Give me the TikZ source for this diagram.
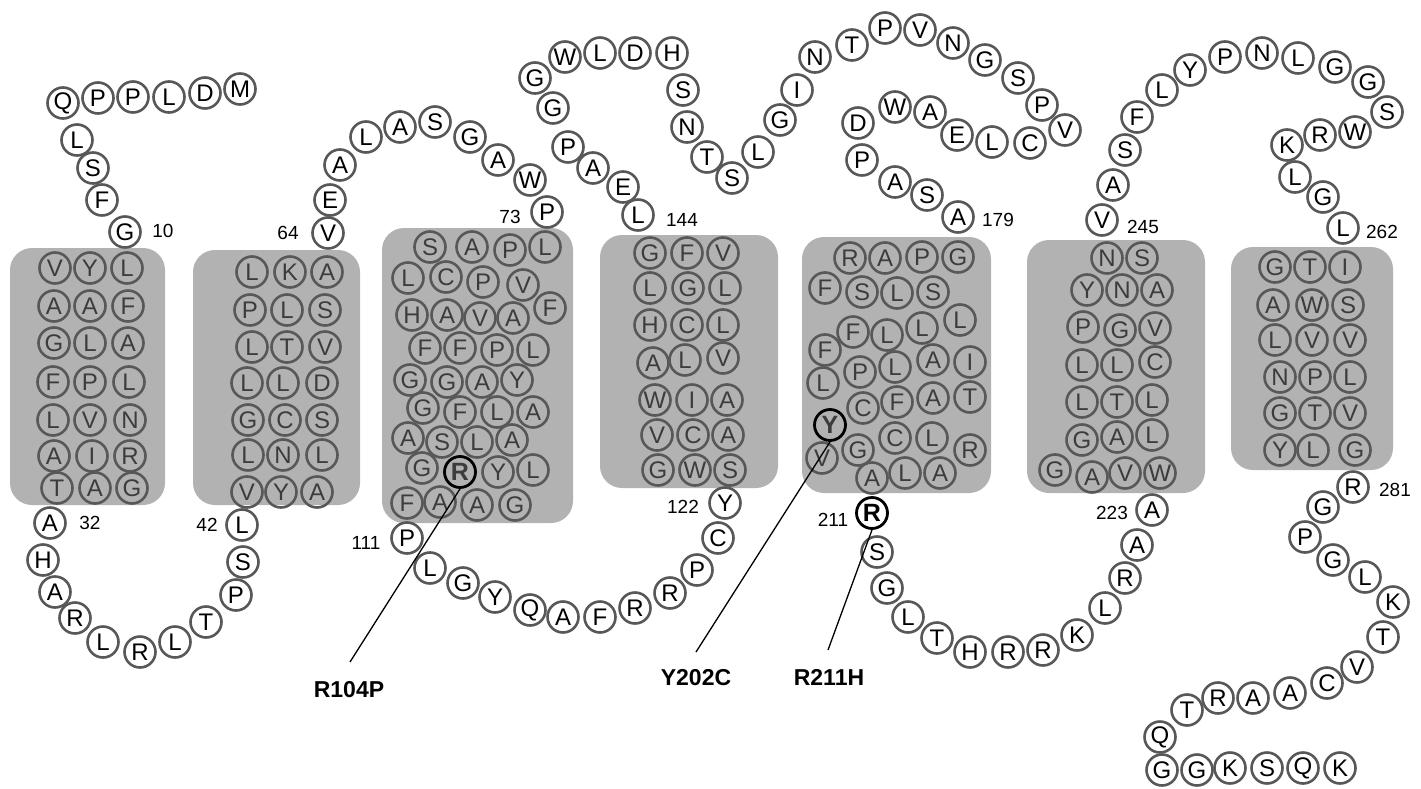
\documentclass[tikz,border=0pt]{standalone}
\usepackage{fontspec}
\setmainfont{Liberation Sans}
\definecolor{boxgray}{RGB}{178,178,178}
\definecolor{ringgray}{RGB}{88,88,88}
\definecolor{ingray}{RGB}{60,60,60}
\tikzset{
  aa/.style={circle,draw=ringgray,line width=2.6pt,minimum size=31pt,inner sep=0pt,font=\fontsize{24}{24}\selectfont},
  outaa/.style={aa,fill=white,text=black},
  inaa/.style={aa,text=ingray},
  mutin/.style={aa,draw=black,line width=2.8pt,text=ingray,font=\fontsize{25}{25}\selectfont\bfseries},
  mutout/.style={aa,fill=white,draw=black,line width=2.8pt,text=black,font=\fontsize{25}{25}\selectfont\bfseries},
  tmbox/.style={fill=boxgray,rounded corners=22pt},
  numlab/.style={font=\fontsize{19}{19}\selectfont,inner sep=0pt},
  mutlab/.style={font=\fontsize{23}{23}\selectfont\bfseries,inner sep=0pt},
  mutline/.style={draw=black,line width=1.3pt}
}
\begin{document}
\begin{tikzpicture}[x=1pt,y=-1pt]
\useasboundingbox (0,0) rectangle (1421,789);
% membrane boxes
\path[tmbox] (10,248) rectangle (165,505);
\path[tmbox] (193,250) rectangle (360,505);
\path[tmbox] (382,228) rectangle (573,523);
\path[tmbox] (600,235) rectangle (778,488);
\path[tmbox] (802,237) rectangle (991,493);
\path[tmbox] (1027,240) rectangle (1205,493);
\path[tmbox] (1231,247) rectangle (1393,470);
% TM1
\foreach \x/\y/\t [count=\i] in {55/268/V,90/268/Y,127/268/L,54/306/A,90/306/A,128/306/F,54/343/G,90/343/L,128/343/A,53/382/F,90/382/P,129/382/L,53/420/L,90/420/V,130/420/N,54/456/A,92/456/I,130/456/R,57/488/T,95/488/A,132/488/G}
  \node[inaa] (ta\i) at (\x,\y) {\t};
% TM2
\foreach \x/\y/\t [count=\i] in {252/272/L,290/272/K,327/272/A,250/310/P,287/310/L,325/310/S,252/347/L,287/347/T,325/347/V,247/383/L,283/383/L,322/383/D,248/420/G,285/420/C,322/420/S,248/455/L,283/455/N,322/455/L,247/492/V,281/492/Y,317/492/A}
  \node[inaa] (tb\i) at (\x,\y) {\t};
% TM3
\foreach \x/\y/\t [count=\i] in {430/247/S,472/247/A,510/250/P,545/247/L,408/278/L,446/277/C,483/282/P,523/285/V,550/308/F,412/315/H,447/315/A,480/318/V,513/318/A,425/348/F,460/348/F,497/350/P,533/350/L,410/380/G,447/382/G,482/382/A,517/380/Y,423/408/G,460/412/F,497/412/L,533/412/A,408/438/A,442/442/S,477/442/L,512/440/A,422/468/G,498/472/Y,533/470/L,407/503/F,440/502/A,477/505/A,515/505/G}
  \node[inaa] (tc\i) at (\x,\y) {\t};
\node[mutin] (mutR) at (460,472) {R};
% TM4
\foreach \x/\y/\t [count=\i] in {650/253/G,687/253/F,723/253/V,650/288/L,688/288/G,725/288/L,650/325/H,687/325/C,723/325/L,653/363/A,685/360/L,723/358/V,655/400/W,692/400/I,727/400/A,657/435/V,693/435/C,728/435/A,658/470/G,695/470/W,730/470/S}
  \node[inaa] (td\i) at (\x,\y) {\t};
% TM5
\foreach \x/\y/\t [count=\i] in {850/258/R,885/258/A,922/257/P,958/257/G,825/288/F,862/292/S,897/293/L,933/292/S,960/320/L,853/332/F,887/335/L,922/328/L,825/350/F,860/372/P,895/367/L,933/360/A,970/362/I,823/383/L,863/408/C,897/402/F,933/398/A,970/397/T,822/458/V,858/450/G,895/438/C,932/438/L,970/450/R,872/478/A,905/473/L,940/473/A}
  \node[inaa] (te\i) at (\x,\y) {\t};
\node[mutin] (mutY) at (830,425) {Y};
% TM6
\foreach \x/\y/\t [count=\i] in {1107/258/N,1142/258/S,1087/290/Y,1122/290/N,1157/290/A,1083/327/P,1120/330/G,1155/328/V,1082/365/L,1117/365/L,1155/362/C,1082/402/L,1117/402/T,1152/400/L,1082/440/G,1117/437/A,1152/435/L,1055/470/G,1092/477/A,1125/473/V,1160/473/W}
  \node[inaa] (tf\i) at (\x,\y) {\t};
% TM7
\foreach \x/\y/\t [count=\i] in {1275/267/G,1310/267/T,1345/267/I,1273/305/A,1312/305/W,1348/305/S,1275/340/L,1312/340/V,1350/340/V,1280/377/N,1315/377/P,1350/377/L,1280/413/G,1315/413/T,1350/413/V,1280/450/Y,1313/450/L,1355/450/G}
  \node[inaa] (tg\i) at (\x,\y) {\t};
% outside residues
\foreach \x/\y/\t [count=\i] in {
  240/89/M,205/93/D,169/97/L,133/97/P,98/98/P,63/103/Q,77/140/L,93/168/S,102/200/F,125/232/G,
  50/523/A,43/560/H,55/592/A,75/618/R,103/642/L,140/652/R,175/642/L,206/622/T,236/595/P,243/562/S,242/525/L,
  328/233/V,330/200/E,340/165/A,366/137/L,400/127/A,435/122/S,470/137/G,498/160/A,530/180/W,547/212/P,
  407/538/P,430/568/L,463/583/G,495/597/Y,530/610/Q,563/617/A,600/617/F,635/608/R,670/593/R,697/570/P,718/538/C,725/503/Y,
  638/215/L,623/187/E,593/168/A,568/147/P,553/108/G,535/78/G,565/57/W,600/53/L,635/53/D,672/53/H,683/90/S,687/127/N,707/157/T,732/178/S,758/152/L,780/120/G,797/90/I,815/57/N,852/45/T,885/28/P,920/30/V,953/43/N,985/60/G,1018/78/S,1042/105/P,1065/130/V,1030/143/C,992/142/L,957/135/E,930/112/A,895/107/W,858/123/D,862/160/P,895/182/A,927/195/S,958/217/A,
  877/552/S,887/588/G,908/617/L,937/638/T,970/652/H,1008/652/R,1043/650/R,1077/635/K,1105/608/L,1125/578/R,1137/545/A,1152/510/A,
  1102/220/V,1113/185/A,1125/150/S,1137/117/F,1162/90/L,1190/70/Y,1225/57/P,1262/53/N,1298/58/L,1335/67/G,1368/82/G,1387/112/S,1355/132/W,1320/135/R,1287/145/K,1295/177/L,1323/197/G,1343/228/L,
  1353/487/R,1323/507/G,1305/537/P,1333/560/G,1365/577/L,1393/602/K,1383/637/T,1357/667/V,1327/683/C,1290/693/A,1253/698/A,1218/698/R,1187/710/T,1160/737/Q,1162/770/G,1197/770/G,1230/768/K,1267/768/S,1303/768/Q,1340/768/K}
  \node[outaa] (o\i) at (\x,\y) {\t};
\node[mutout] (mutRb) at (872,513) {R};
% position numbers
\node[numlab] (n10) at (163,231) {10};
\node[numlab] (n32) at (90,523) {32};
\node[numlab] (n42) at (207,525) {42};
\node[numlab] (n64) at (288,233) {64};
\node[numlab] (n73) at (510,217) {73};
\node[numlab] (n111) at (366,543) {111};
\node[numlab] (n122) at (683,507) {122};
\node[numlab] (n144) at (682,220) {144};
\node[numlab] (n179) at (998,220) {179};
\node[numlab] (n211) at (833,520) {211};
\node[numlab] (n223) at (1112,513) {223};
\node[numlab] (n245) at (1143,227) {245};
\node[numlab] (n262) at (1382,232) {262};
\node[numlab] (n281) at (1395,490) {281};
% mutation labels and leaders
\coordinate (eR104) at (350,662);
\coordinate (eY202) at (696,652);
\coordinate (eR211) at (828,650);
\node[mutlab] (lR104) at (349,690) {R104P};
\node[mutlab] (lY202) at (696,678) {Y202C};
\node[mutlab] (lR211) at (829,677) {R211H};
\draw[mutline] (mutR.south) -- (eR104);
\draw[mutline] (mutY.south) -- (eY202);
\draw[mutline] (mutRb.south) -- (eR211);
\end{tikzpicture}
\end{document}
